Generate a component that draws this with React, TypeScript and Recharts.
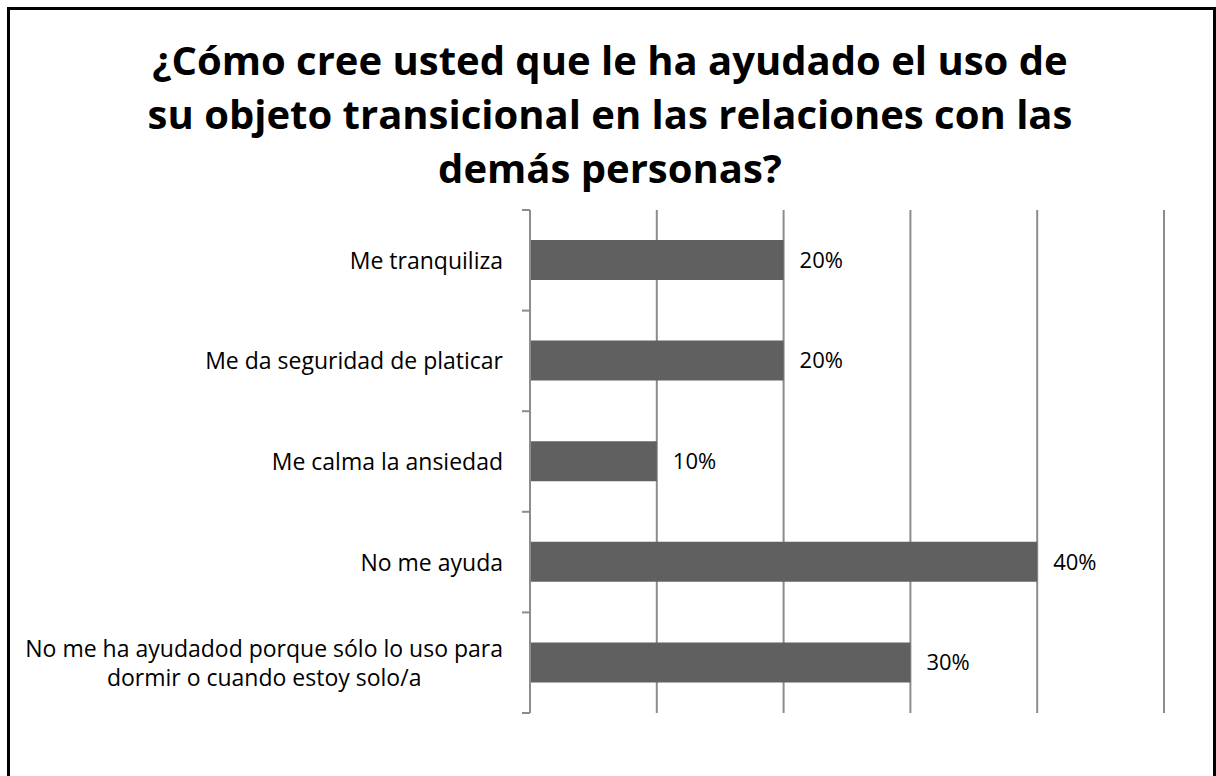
import { BarChart, Bar, XAxis, YAxis, CartesianGrid, LabelList } from "recharts";

const titleLines = [
  "¿Cómo cree usted que le ha ayudado el uso de",
  "su objeto transicional en las relaciones con las",
  "demás personas?",
];

const categories = [
  "Me tranquiliza",
  "Me da seguridad de platicar",
  "Me calma la ansiedad",
  "No me ayuda",
  "No me ha ayudadod porque sólo lo uso para dormir o cuando estoy solo/a",
];
const values = [0.2, 0.2, 0.1, 0.4, 0.3];
const xTicks = [0, 0.1, 0.2, 0.3, 0.4, 0.5];

const data = categories.map((name, i) => ({ name, value: values[i] }));

const W = 1216;
const H = 776;
const TOP = 210;
const BOTTOM = 713;
const AXIS_X = 530;
const RIGHT = 1164;
const BAND = (BOTTOM - TOP) / categories.length;
const GRID = "#8c8c8c";
const FONT = "'Open Sans', sans-serif";

function wrap(text: string, max: number) {
  const lines: string[] = [];
  let cur = "";
  for (const w of text.split(" ")) {
    const next = cur ? cur + " " + w : w;
    if (next.length > max && cur) {
      lines.push(cur);
      cur = w;
    } else cur = next;
  }
  if (cur) lines.push(cur);
  return lines;
}

function CategoryTick(props: any) {
  const { x, y, payload, index } = props;
  const lines = wrap(String(payload.value), 42);
  const half = BAND / 2;
  const right = x - 27;
  return (
    <g>
      <line x1={x - 8} x2={x} y1={y - half} y2={y - half} stroke={GRID} strokeWidth={2} />
      {index === categories.length - 1 && (
        <line x1={x - 8} x2={x} y1={y + half} y2={y + half} stroke={GRID} strokeWidth={2} />
      )}
      <foreignObject x={0} y={y - half} width={right} height={BAND}>
        <div
          style={{
            width: right,
            height: BAND,
            display: "flex",
            alignItems: "center",
            justifyContent: "flex-end",
          }}
        >
          <div
            style={{
              textAlign: "center",
              fontFamily: FONT,
              fontSize: 23,
              lineHeight: "29px",
              color: "#000",
              whiteSpace: "nowrap",
            }}
          >
            {lines.map((l, i) => (
              <div key={i}>{l}</div>
            ))}
          </div>
        </div>
      </foreignObject>
    </g>
  );
}

export default function App() {
  return (
    <div
      style={{
        position: "absolute",
        left: 0,
        top: 0,
        width: W,
        height: H,
        overflow: "hidden",
        background: "#fff",
      }}
    >
      <div
        style={{
          position: "absolute",
          left: 7,
          top: 7,
          width: W - 7,
          height: H + 20,
          border: "3px solid #000",
          boxSizing: "border-box",
        }}
      />
      <div
        style={{
          position: "absolute",
          left: 0,
          top: 33,
          width: W + 4,
          textAlign: "center",
          fontFamily: FONT,
          fontWeight: 700,
          fontSize: 40,
          lineHeight: "54px",
          color: "#000",
        }}
      >
        {titleLines.map((t, i) => (
          <div key={i}>{t}</div>
        ))}
      </div>
      <div style={{ position: "absolute", left: 0, top: 0 }}>
        <BarChart
          width={W}
          height={H}
          data={data}
          layout="vertical"
          margin={{ top: TOP, bottom: H - BOTTOM, left: 0, right: W - RIGHT }}
          barSize={40}
        >
          <CartesianGrid horizontal={false} stroke={GRID} strokeWidth={2} />
          <XAxis type="number" domain={[0, 0.5]} ticks={xTicks} hide />
          <YAxis
            type="category"
            dataKey="name"
            width={AXIS_X}
            interval={0}
            tickSize={0}
            tickMargin={0}
            tickLine={false}
            axisLine={{ stroke: GRID, strokeWidth: 2 }}
            tick={<CategoryTick />}
          />
          <Bar dataKey="value" fill="#606060" isAnimationActive={false}>
            <LabelList
              dataKey="value"
              position="right"
              offset={16}
              formatter={(v: any) => `${Math.round(Number(v) * 100)}%`}
              fill="#000"
              fontFamily={FONT}
              fontSize={22}
            />
          </Bar>
        </BarChart>
      </div>
    </div>
  );
}
